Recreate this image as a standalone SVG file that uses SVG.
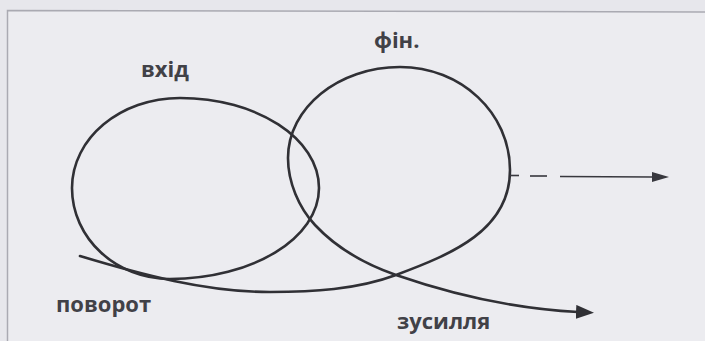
<svg xmlns="http://www.w3.org/2000/svg" width="705" height="341" viewBox="0 0 705 341">
  <defs>
    <style>
      .curve { fill: none; stroke: #303035; stroke-width: 2.6; stroke-linecap: round; stroke-linejoin: round; }
      .thin { fill: none; stroke: #38383e; stroke-width: 1.6; }
      .lbl { font-family: "Open Sans", "Noto Sans", "DejaVu Sans", sans-serif; font-weight: 700; font-size: 22px; fill: #414147; }
    </style>
    <marker id="ahBig" markerUnits="userSpaceOnUse" markerWidth="22" markerHeight="16" refX="2" refY="7" orient="auto">
      <path d="M0,0 L18,7 L0,14 Z" fill="#303035"/>
    </marker>
    <marker id="ahSmall" markerUnits="userSpaceOnUse" markerWidth="20" markerHeight="12" refX="1" refY="5" orient="auto">
      <path d="M0,0 L17,5 L0,10 Z" fill="#38383e"/>
    </marker>
  </defs>

  <rect x="0" y="0" width="705" height="341" fill="#e7e7ec"/>
  <rect x="7.5" y="11" width="705" height="340" fill="#ececf0"/>
  <path d="M7.5,341 L7.5,10.5 L705,12" fill="none" stroke="#aaaab2" stroke-width="1.5"/>

  <g id="connectors">
    <path id="left-loop" class="curve" d="M180,98 C256.7,98 319,138.3 319,188 C319,238.2 252.3,279 170,279 C115.9,279 72,238.2 72,188 C72,138.3 120.4,98 180,98 Z"/>
    <path id="main-path" class="curve" marker-end="url(#ahBig)" d="M80,256 C141,274.4 206,292 270,292 C312,292 356.5,289.7 396,275 C452.4,254 510,230 510,170 C510,113 461,67 400,67 C338.2,67 288,107.8 288,158 C288,182 298.7,207.5 315,225 C336.8,248.4 365.6,264.4 396,275 C454,295 517,309 578,312"/>
    <g id="dashed-arrow">
      <line class="thin" x1="510" y1="175.5" x2="519" y2="175.5"/>
      <line class="thin" x1="530" y1="176" x2="547" y2="176"/>
      <line class="thin" x1="560" y1="176.5" x2="653" y2="177" marker-end="url(#ahSmall)"/>
    </g>
  </g>

  <g id="label-vkhid"><text class="lbl" x="141" y="76.5">вхід</text></g>
  <g id="label-fin"><text class="lbl" x="374" y="47.5">фін.</text></g>
  <g id="label-povorot"><text class="lbl" x="56" y="312">поворот</text></g>
  <g id="label-zusyllia"><text class="lbl" x="397" y="328.5">зусилля</text></g>
</svg>
